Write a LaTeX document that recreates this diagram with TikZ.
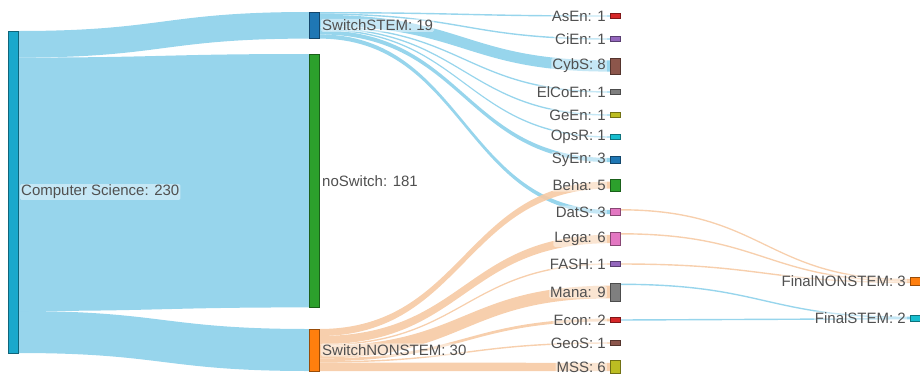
\documentclass[tikz,border=0pt]{standalone}
\usepackage{fontspec}
\setmainfont{Liberation Sans}
\usetikzlibrary{positioning,calc}

\pgfdeclarelayer{background}
\pgfsetlayers{background,main}

\definecolor{pBlue}{HTML}{1F77B4}
\definecolor{pOrange}{HTML}{FF7F0E}
\definecolor{pGreen}{HTML}{2CA02C}
\definecolor{pRed}{HTML}{D62728}
\definecolor{pPurple}{HTML}{9467BD}
\definecolor{pBrown}{HTML}{8C564B}
\definecolor{pPink}{HTML}{E377C2}
\definecolor{pGrey}{HTML}{7F7F7F}
\definecolor{pOlive}{HTML}{BCBD22}
\definecolor{pCyan}{HTML}{17BECF}
\definecolor{csBlue}{HTML}{1AA8CC}
\definecolor{lnkB}{RGB}{140,208,234}
\definecolor{lnkO}{RGB}{246,202,164}
\definecolor{txt}{RGB}{80,80,80}

\tikzset{
  bar/.style={rectangle, fill=#1, draw=#1!60!black, line width=0.8pt,
    minimum width=10pt, inner sep=0pt, outer sep=0pt},
  lbl/.style={font=\fontsize{15}{17}\selectfont, text=txt, fill=white,
    fill opacity=0.45, text opacity=1, inner sep=1pt, rounded corners=1.5pt},
  blueflow/.style={fill=lnkB, fill opacity=0.9},
  peachflow/.style={fill=lnkO, fill opacity=0.9}
}

% band from source (offset below its top) to target (offset of centre), width
\newcommand\flow[6]{%
  \fill[#1] let \p1=(#2.north east), \p2=(#4.west), \n1={(\x1+\x2)/2} in
    (\x1,{\y1-(#3pt)}) .. controls ({\n1*1pt},{\y1-(#3pt)}) and ({\n1*1pt},{\y2-(#5pt)+#6pt/2}) .. (\x2,{\y2-(#5pt)+#6pt/2})
    -- (\x2,{\y2-(#5pt)-#6pt/2}) .. controls ({\n1*1pt},{\y2-(#5pt)-#6pt/2}) and ({\n1*1pt},{\y1-(#3pt)-#6pt}) .. (\x1,{\y1-(#3pt)-#6pt})
    -- cycle;}

\begin{document}
\begin{tikzpicture}[x=1pt,y=-1pt]
\useasboundingbox (0,0) rectangle (920,378);

% columns
\node[bar=csBlue, minimum height=322pt] (cs) at (13,192) {};
\node[bar=pBlue, minimum height=26.6pt] (sstem) at (314,25.3) {};
\node[bar=pGreen, minimum height=253.4pt] (nosw) at (314,180.7) {};
\node[bar=pOrange, minimum height=42pt] (snon) at (314,350) {};

\node[bar=pRed, minimum height=5pt] (asen) at (615,16) {};
\node[bar=pPurple, minimum height=5pt] (cien) at (615,39) {};
\node[bar=pBrown, minimum height=16pt] (cybs) at (615,66) {};
\node[bar=pGrey, minimum height=5pt] (elcoen) at (615,92) {};
\node[bar=pOlive, minimum height=5pt] (geen) at (615,115) {};
\node[bar=pCyan, minimum height=5pt] (opsr) at (615,137) {};
\node[bar=pBlue, minimum height=7pt] (syen) at (615,160) {};
\node[bar=pGreen, minimum height=12pt] (beha) at (615,185) {};
\node[bar=pPink, minimum height=7pt] (dats) at (615,212) {};
\node[bar=pPink, minimum height=13pt] (lega) at (615,239) {};
\node[bar=pPurple, minimum height=5pt] (fash) at (615,264) {};
\node[bar=pGrey, minimum height=18pt] (mana) at (615,292) {};
\node[bar=pRed, minimum height=5pt] (econ) at (615,320) {};
\node[bar=pBrown, minimum height=5pt] (geos) at (615,343) {};
\node[bar=pOlive, minimum height=13pt] (mss) at (615,367) {};

\node[bar=pOrange, minimum height=8pt] (finns) at (915,281) {};
\node[bar=pCyan, minimum height=6pt] (finst) at (915,318) {};

\begin{pgfonlayer}{background}
\flow{blueflow}{cs}{0}{sstem}{0}{26.6}
\flow{blueflow}{cs}{26.6}{nosw}{0}{253.4}
\flow{blueflow}{cs}{280}{snon}{0}{42}

\flow{blueflow}{sstem}{0}{asen}{0}{1.4}
\flow{blueflow}{sstem}{1.4}{cien}{0}{1.4}
\flow{blueflow}{sstem}{2.8}{cybs}{0}{11.2}
\flow{blueflow}{sstem}{14}{elcoen}{0}{1.4}
\flow{blueflow}{sstem}{15.4}{geen}{0}{1.4}
\flow{blueflow}{sstem}{16.8}{opsr}{0}{1.4}
\flow{blueflow}{sstem}{18.2}{syen}{0}{4.2}
\flow{blueflow}{sstem}{22.4}{dats}{0}{4.2}

\flow{peachflow}{snon}{0}{beha}{0}{7}
\flow{peachflow}{snon}{7}{lega}{0}{8.4}
\flow{peachflow}{snon}{15.4}{fash}{0}{1.4}
\flow{peachflow}{snon}{16.8}{mana}{0}{12.6}
\flow{peachflow}{snon}{29.4}{econ}{0}{2.8}
\flow{peachflow}{snon}{32.2}{geos}{0}{1.4}
\flow{peachflow}{snon}{33.6}{mss}{0}{8.4}

\flow{peachflow}{dats}{0.6}{finns}{-1.4}{1.4}
\flow{peachflow}{lega}{0.6}{finns}{0}{1.4}
\flow{peachflow}{fash}{1.8}{finns}{1.4}{1.4}
\flow{blueflow}{mana}{0.6}{finst}{-0.7}{1.4}
\flow{blueflow}{econ}{1.8}{finst}{0.7}{1.4}
\end{pgfonlayer}

% labels
\node[lbl, right=2pt of cs] (csL) {Computer Science: 230};
\node[lbl, right=2pt of sstem] (sstemL) {SwitchSTEM: 19};
\node[lbl, right=2pt of nosw] (noswL) {noSwitch: 181};
\node[lbl, right=2pt of snon] (snonL) {SwitchNONSTEM: 30};

\node[lbl, left=3pt of asen] (asenL) {AsEn: 1};
\node[lbl, left=3pt of cien] (cienL) {CiEn: 1};
\node[lbl, left=3pt of cybs] (cybsL) {CybS: 8};
\node[lbl, left=3pt of elcoen] (elcoenL) {ElCoEn: 1};
\node[lbl, left=3pt of geen] (geenL) {GeEn: 1};
\node[lbl, left=3pt of opsr] (opsrL) {OpsR: 1};
\node[lbl, left=3pt of syen] (syenL) {SyEn: 3};
\node[lbl, left=3pt of beha] (behaL) {Beha: 5};
\node[lbl, left=3pt of dats] (datsL) {DatS: 3};
\node[lbl, left=3pt of lega] (legaL) {Lega: 6};
\node[lbl, left=3pt of fash] (fashL) {FASH: 1};
\node[lbl, left=3pt of mana] (manaL) {Mana: 9};
\node[lbl, left=3pt of econ] (econL) {Econ: 2};
\node[lbl, left=3pt of geos] (geosL) {GeoS: 1};
\node[lbl, left=3pt of mss] (mssL) {MSS: 6};

\node[lbl, left=3pt of finns] (finnsL) {FinalNONSTEM: 3};
\node[lbl, left=3pt of finst] (finstL) {FinalSTEM: 2};
\end{tikzpicture}
\end{document}
